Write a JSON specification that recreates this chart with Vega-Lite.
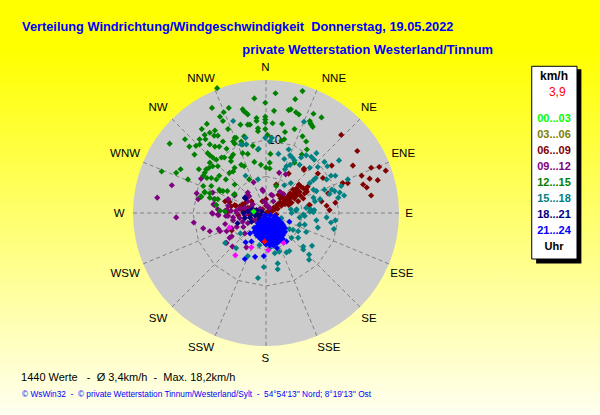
{
  "$schema": "https://vega.github.io/schema/vega-lite/v6.json",
  "width": 600,
  "height": 415,
  "padding": 0,
  "autosize": {"type": "fit", "contains": "padding"},
  "background": "#ffffff",
  "config": {
    "axis": {"disable": true},
    "view": {"stroke": null},
    "text": {"font": "Liberation Sans"}
  },
  "datasets": {
    "richtung": [
      {"r": "N", "e": 0, "n": 18.2}, {"r": "NNE", "e": 6.96, "n": 16.81}, {"r": "NE", "e": 12.87, "n": 12.87}, {"r": "ENE", "e": 16.81, "n": 6.96},
      {"r": "E", "e": 18.2, "n": 0}, {"r": "ESE", "e": 16.81, "n": -6.96}, {"r": "SE", "e": 12.87, "n": -12.87}, {"r": "SSE", "e": 6.96, "n": -16.81},
      {"r": "S", "e": 0, "n": -18.2}, {"r": "SSW", "e": -6.96, "n": -16.81}, {"r": "SW", "e": -12.87, "n": -12.87}, {"r": "WSW", "e": -16.81, "n": -6.96},
      {"r": "W", "e": -18.2, "n": 0}, {"r": "WNW", "e": -16.81, "n": 6.96}, {"r": "NW", "e": -12.87, "n": 12.87}, {"r": "NNW", "e": -6.96, "n": 16.81}
    ],
    "beschriftung": [
      {"r": "N", "e": -0.1, "n": 19.9}, {"r": "NNE", "e": 9.3, "n": 18.4}, {"r": "NE", "e": 14.1, "n": 14.4}, {"r": "ENE", "e": 18.8, "n": 8.1},
      {"r": "E", "e": 19.6, "n": -0.1}, {"r": "ESE", "e": 18.6, "n": -8.4}, {"r": "SE", "e": 14.1, "n": -14.5}, {"r": "SSE", "e": 8.6, "n": -18.5},
      {"r": "S", "e": -0.1, "n": -20}, {"r": "SSW", "e": -8.9, "n": -18.5}, {"r": "SW", "e": -14.8, "n": -14.5}, {"r": "WSW", "e": -19.3, "n": -8.4},
      {"r": "W", "e": -20.1, "n": -0.1}, {"r": "WNW", "e": -19.3, "n": 8.1}, {"r": "NW", "e": -14.8, "n": 14.4}, {"r": "NNW", "e": -8.9, "n": 18.4}
    ],
    "ringe": [
      {"k": 5, "i": 0, "e": 0, "n": 5}, {"k": 5, "i": 1, "e": 1.91, "n": 4.62}, {"k": 5, "i": 2, "e": 3.54, "n": 3.54}, {"k": 5, "i": 3, "e": 4.62, "n": 1.91},
      {"k": 5, "i": 4, "e": 5, "n": 0}, {"k": 5, "i": 5, "e": 4.62, "n": -1.91}, {"k": 5, "i": 6, "e": 3.54, "n": -3.54}, {"k": 5, "i": 7, "e": 1.91, "n": -4.62},
      {"k": 5, "i": 8, "e": 0, "n": -5}, {"k": 5, "i": 9, "e": -1.91, "n": -4.62}, {"k": 5, "i": 10, "e": -3.54, "n": -3.54}, {"k": 5, "i": 11, "e": -4.62, "n": -1.91},
      {"k": 5, "i": 12, "e": -5, "n": 0}, {"k": 5, "i": 13, "e": -4.62, "n": 1.91}, {"k": 5, "i": 14, "e": -3.54, "n": 3.54}, {"k": 5, "i": 15, "e": -1.91, "n": 4.62}, {"k": 5, "i": 16, "e": 0, "n": 5},
      {"k": 10, "i": 0, "e": 0, "n": 10}, {"k": 10, "i": 1, "e": 3.83, "n": 9.24}, {"k": 10, "i": 2, "e": 7.07, "n": 7.07}, {"k": 10, "i": 3, "e": 9.24, "n": 3.83},
      {"k": 10, "i": 4, "e": 10, "n": 0}, {"k": 10, "i": 5, "e": 9.24, "n": -3.83}, {"k": 10, "i": 6, "e": 7.07, "n": -7.07}, {"k": 10, "i": 7, "e": 3.83, "n": -9.24},
      {"k": 10, "i": 8, "e": 0, "n": -10}, {"k": 10, "i": 9, "e": -3.83, "n": -9.24}, {"k": 10, "i": 10, "e": -7.07, "n": -7.07}, {"k": 10, "i": 11, "e": -9.24, "n": -3.83},
      {"k": 10, "i": 12, "e": -10, "n": 0}, {"k": 10, "i": 13, "e": -9.24, "n": 3.83}, {"k": 10, "i": 14, "e": -7.07, "n": 7.07}, {"k": 10, "i": 15, "e": -3.83, "n": 9.24}, {"k": 10, "i": 16, "e": 0, "n": 10}
    ],
    "wind": [
      {"u":"06...09","e":10.3,"n":10.7},{"u":"06...09","e":12.5,"n":8.5},{"u":"06...09","e":9.0,"n":6.5},{"u":"06...09","e":11.9,"n":6.5},{"u":"06...09","e":14.4,"n":6.2},{"u":"06...09","e":15.5,"n":6.3},{"u":"06...09","e":16.4,"n":5.8},{"u":"06...09","e":13.1,"n":5.1},{"u":"06...09","e":14.2,"n":4.7},{"u":"06...09","e":15.3,"n":4.5},{"u":"06...09","e":13.3,"n":3.9},{"u":"06...09","e":13.8,"n":3.5},{"u":"06...09","e":14.4,"n":2.4},{"u":"06...09","e":5.2,"n":6.1},{"u":"06...09","e":3.1,"n":5.4},{"u":"06...09","e":7.1,"n":5.4},{"u":"06...09","e":7.8,"n":4.8},{"u":"06...09","e":10.5,"n":4.1},{"u":"06...09","e":11.2,"n":4.1},{"u":"06...09","e":8.5,"n":2.7},{"u":"06...09","e":8.3,"n":1.0},{"u":"06...09","e":9.5,"n":1.4},{"u":"06...09","e":8.7,"n":0.4},{"u":"06...09","e":5.9,"n":1.1},
      {"u":"06...09","e":0.1,"n":0},{"u":"06...09","e":0.5,"n":0.2},{"u":"06...09","e":1.0,"n":0.7},{"u":"06...09","e":1.4,"n":0.9},{"u":"06...09","e":1.9,"n":1.4},{"u":"06...09","e":2.3,"n":1.4},{"u":"06...09","e":2.8,"n":2.0},{"u":"06...09","e":3.0,"n":1.6},{"u":"06...09","e":3.5,"n":2.3},{"u":"06...09","e":3.9,"n":2.0},{"u":"06...09","e":3.9,"n":2.7},{"u":"06...09","e":4.2,"n":3.4},{"u":"06...09","e":4.5,"n":3.9},{"u":"06...09","e":4.6,"n":2.9},{"u":"06...09","e":5.1,"n":3.4},{"u":"06...09","e":5.3,"n":2.7},{"u":"06...09","e":5.1,"n":2.0},{"u":"06...09","e":4.4,"n":1.6},{"u":"06...09","e":3.5,"n":1.4},{"u":"06...09","e":2.3,"n":2.3},{"u":"06...09","e":1.7,"n":2.5},{"u":"06...09","e":2.1,"n":2.7},{"u":"06...09","e":1.4,"n":3.9},{"u":"06...09","e":1.2,"n":0.5},{"u":"06...09","e":1.4,"n":-0.2},{"u":"06...09","e":5.7,"n":3.6},{"u":"06...09","e":5.2,"n":5.9},{"u":"06...09","e":6.0,"n":1.1},{"u":"06...09","e":7.6,"n":1.6},
      {"u":"06...09","e":0.8,"n":0.2},{"u":"06...09","e":1.6,"n":0.6},{"u":"06...09","e":2.1,"n":1.0},{"u":"06...09","e":2.6,"n":1.2},{"u":"06...09","e":2.6,"n":1.7},{"u":"06...09","e":3.2,"n":1.9},{"u":"06...09","e":3.3,"n":2.7},{"u":"06...09","e":3.7,"n":3.2},{"u":"06...09","e":4.2,"n":2.4},{"u":"06...09","e":4.7,"n":2.4},{"u":"06...09","e":4.8,"n":3.6},{"u":"06...09","e":4.3,"n":3.0},{"u":"06...09","e":3.7,"n":2.4},{"u":"06...09","e":3.0,"n":2.3},{"u":"06...09","e":2.5,"n":1.9},{"u":"06...09","e":1.6,"n":1.2},{"u":"06...09","e":0.9,"n":0.5},{"u":"06...09","e":5.6,"n":2.9},{"u":"06...09","e":5.5,"n":3.2},{"u":"06...09","e":2.0,"n":2.0},{"u":"06...09","e":3.1,"n":1.1},
      {"u":"06...09","e":-4.8,"n":0.9},{"u":"06...09","e":-5.2,"n":0.2},{"u":"06...09","e":-3.6,"n":0.9},{"u":"06...09","e":-4.7,"n":-2.4},{"u":"06...09","e":-5.6,"n":1.6},{"u":"06...09","e":-7.0,"n":1.1},{"u":"06...09","e":-4.3,"n":1.1},{"u":"06...09","e":-3.8,"n":-0.3},{"u":"06...09","e":-3.1,"n":0.9},{"u":"06...09","e":-2.2,"n":-0.3},{"u":"06...09","e":-1.3,"n":0},{"u":"06...09","e":0,"n":0},{"u":"06...09","e":0.5,"n":0.4},{"u":"06...09","e":-2.9,"n":1.3},{"u":"06...09","e":-2.0,"n":1.6},{"u":"06...09","e":-2.7,"n":0.4},{"u":"06...09","e":-5.0,"n":1.5},{"u":"06...09","e":-5.2,"n":0.3},{"u":"06...09","e":-3.2,"n":1.2},{"u":"06...09","e":-2.5,"n":0.7},{"u":"06...09","e":-1.8,"n":0.5},{"u":"06...09","e":-0.5,"n":1.6},{"u":"06...09","e":0,"n":1.9},{"u":"06...09","e":-4.1,"n":1.0},{"u":"06...09","e":-3.2,"n":0.3},{"u":"06...09","e":-1.4,"n":-0.4},{"u":"06...09","e":-0.5,"n":0.5},{"u":"06...09","e":0,"n":1.0},
      {"u":"09...12","e":-8.9,"n":4.7},{"u":"09...12","e":-12.9,"n":3.8},{"u":"09...12","e":-14.9,"n":2.1},{"u":"09...12","e":-9.5,"n":2.7},{"u":"09...12","e":-9.3,"n":1.9},{"u":"09...12","e":-7.3,"n":2.8},{"u":"09...12","e":-7.1,"n":1.9},{"u":"09...12","e":-7.1,"n":1.1},{"u":"09...12","e":-12.3,"n":-0.6},{"u":"09...12","e":-7.4,"n":0},{"u":"09...12","e":-6.6,"n":0.5},{"u":"09...12","e":-6.6,"n":-0.2},{"u":"09...12","e":-5.6,"n":0.3},{"u":"09...12","e":-5.2,"n":1.9},{"u":"09...12","e":-4.3,"n":2.4},{"u":"09...12","e":-5.2,"n":1.0},{"u":"09...12","e":-4.8,"n":0.3},{"u":"09...12","e":-4.1,"n":0.3},{"u":"09...12","e":-2.5,"n":2.8},{"u":"09...12","e":-2.3,"n":2.3},{"u":"09...12","e":-1.7,"n":4.2},{"u":"09...12","e":-0.5,"n":3.2},{"u":"09...12","e":-2.5,"n":1.6},{"u":"09...12","e":-3.0,"n":0.7},{"u":"09...12","e":-1.8,"n":1.2},{"u":"09...12","e":-4.5,"n":-0.6},{"u":"09...12","e":-5.5,"n":-0.4},
      {"u":"09...12","e":1.8,"n":5.5},{"u":"09...12","e":2.7,"n":5.3},{"u":"09...12","e":0.9,"n":2.4},{"u":"09...12","e":1.0,"n":1.6},{"u":"09...12","e":1.9,"n":2.9},{"u":"09...12","e":2.4,"n":2.6},{"u":"09...12","e":-0.1,"n":1.4},{"u":"09...12","e":0.1,"n":1.0},{"u":"09...12","e":0.5,"n":0.7},
      {"u":"09...12","e":-9.9,"n":-1.3},{"u":"09...12","e":-8.6,"n":-2.1},{"u":"09...12","e":-7.7,"n":-2.5},{"u":"09...12","e":-6.5,"n":-2.2},{"u":"09...12","e":-6.3,"n":-2.5},{"u":"09...12","e":-5.6,"n":-1.5},{"u":"09...12","e":-5.4,"n":-2.5},{"u":"09...12","e":-4.7,"n":-2.1},{"u":"09...12","e":-7.3,"n":-0.1},{"u":"09...12","e":-6.5,"n":-0.3},{"u":"09...12","e":-7.2,"n":1.2},{"u":"09...12","e":-5.4,"n":0.4},{"u":"09...12","e":-5.2,"n":-0.4},{"u":"09...12","e":-5.0,"n":-3.4},{"u":"09...12","e":-4.7,"n":-3.2},{"u":"09...12","e":-4.6,"n":-4.6},{"u":"09...12","e":-5.4,"n":-4.1},{"u":"09...12","e":-2.7,"n":-4.7},{"u":"09...12","e":-4.0,"n":0},{"u":"09...12","e":-3.6,"n":0.6},{"u":"09...12","e":-2.7,"n":0.6},{"u":"09...12","e":-2.0,"n":0.9},{"u":"09...12","e":-1.8,"n":-1.0},{"u":"09...12","e":-2.5,"n":-1.4},{"u":"09...12","e":-3.6,"n":-0.7},{"u":"09...12","e":-4.5,"n":-1.0},{"u":"09...12","e":-4.0,"n":-1.9},{"u":"09...12","e":-3.1,"n":-1.9},{"u":"09...12","e":-2.9,"n":-2.8},{"u":"09...12","e":-0.2,"n":1.6},{"u":"09...12","e":0.3,"n":0.9},{"u":"09...12","e":-0.4,"n":3.0},{"u":"09...12","e":0.7,"n":2.5},{"u":"09...12","e":-2.5,"n":2.5},{"u":"09...12","e":-2.0,"n":-0.2},{"u":"09...12","e":-1.2,"n":0.3},{"u":"09...12","e":-1.5,"n":-1.0},{"u":"09...12","e":-0.8,"n":0.6},{"u":"09...12","e":-2.9,"n":-0.3},{"u":"09...12","e":-3.2,"n":-1.2},{"u":"09...12","e":-2.4,"n":0.2},{"u":"09...12","e":-1.0,"n":-0.6},
      {"u":"12...15","e":-6.7,"n":17.1},{"u":"12...15","e":-1.6,"n":15.7},{"u":"12...15","e":-0.1,"n":15.1},{"u":"12...15","e":-7.4,"n":14.4},{"u":"12...15","e":-5.1,"n":14.4},{"u":"12...15","e":-5.8,"n":13.8},{"u":"12...15","e":-6.3,"n":13.2},{"u":"12...15","e":-5.9,"n":12.6},{"u":"12...15","e":-3.2,"n":14.2},{"u":"12...15","e":-3.0,"n":13.9},{"u":"12...15","e":-2.7,"n":13.7},{"u":"12...15","e":-2.5,"n":13.5},{"u":"12...15","e":-3.5,"n":12.1},{"u":"12...15","e":-2.5,"n":12.1},{"u":"12...15","e":-2.2,"n":12.1},{"u":"12...15","e":-1.3,"n":13.0},{"u":"12...15","e":-1.3,"n":12.6},{"u":"12...15","e":-0.1,"n":13.2},{"u":"12...15","e":-0.1,"n":12.8},{"u":"12...15","e":-0.1,"n":12.4},{"u":"12...15","e":-8.1,"n":12.2},{"u":"12...15","e":-5.2,"n":11.5},{"u":"12...15","e":-1.1,"n":11.6},{"u":"12...15","e":-1.1,"n":11.2},{"u":"12...15","e":-0.1,"n":11.5},{"u":"12...15","e":-8.8,"n":11.5},{"u":"12...15","e":-7.0,"n":11.3},{"u":"12...15","e":-8.4,"n":10.7},{"u":"12...15","e":-7.7,"n":11.0},{"u":"12...15","e":-7.1,"n":10.6},{"u":"12...15","e":-6.6,"n":10.6},{"u":"12...15","e":-11.1,"n":10.1},{"u":"12...15","e":-9.1,"n":10.1},{"u":"12...15","e":-8.3,"n":10.1},{"u":"12...15","e":-5.9,"n":9.8},{"u":"12...15","e":-4.3,"n":10.3},{"u":"12...15","e":-4.1,"n":10.3},{"u":"12...15","e":-4.5,"n":9.8},{"u":"12...15","e":-4.3,"n":9.5},{"u":"12...15","e":-3.0,"n":10.5},{"u":"12...15","e":-3.4,"n":9.8},{"u":"12...15","e":-10.5,"n":9.1},{"u":"12...15","e":-9.1,"n":9.4},{"u":"12...15","e":-9.6,"n":9.2},{"u":"12...15","e":-13.2,"n":9.5},{"u":"12...15","e":-7.7,"n":9.4},{"u":"12...15","e":-7.0,"n":9.1},{"u":"12...15","e":-6.4,"n":9.1},{"u":"12...15","e":-3.2,"n":9.4},{"u":"12...15","e":-1.8,"n":9.2},{"u":"12...15","e":-1.1,"n":8.7},{"u":"12...15","e":-9.8,"n":8.0},{"u":"12...15","e":-8.0,"n":8.2},{"u":"12...15","e":-7.7,"n":7.9},{"u":"12...15","e":-5.4,"n":8.8},{"u":"12...15","e":-4.5,"n":8.0},{"u":"12...15","e":-4.8,"n":7.6},{"u":"12...15","e":-3.2,"n":8.2},{"u":"12...15","e":-2.5,"n":8.1},{"u":"12...15","e":-1.6,"n":7.0},{"u":"12...15","e":-0.7,"n":6.6},{"u":"12...15","e":-7.3,"n":7.6},{"u":"12...15","e":-6.8,"n":7.3},{"u":"12...15","e":-6.1,"n":7.6},{"u":"12...15","e":-5.7,"n":7.6},{"u":"12...15","e":-7.7,"n":6.9},{"u":"12...15","e":-7.3,"n":6.4},{"u":"12...15","e":-6.6,"n":6.4},{"u":"12...15","e":-4.8,"n":7.1},{"u":"12...15","e":-3.4,"n":6.6},{"u":"12...15","e":-3.0,"n":6.4},{"u":"12...15","e":-4.3,"n":6.2},{"u":"12...15","e":-4.5,"n":5.7},{"u":"12...15","e":-9.2,"n":6.0},{"u":"12...15","e":-8.2,"n":6.0},{"u":"12...15","e":-8.4,"n":5.5},{"u":"12...15","e":-8.6,"n":5.1},{"u":"12...15","e":-8.1,"n":4.8},{"u":"12...15","e":-7.8,"n":6.2},{"u":"12...15","e":-12.3,"n":5.5},{"u":"12...15","e":-11.7,"n":6.0},{"u":"12...15","e":-14.3,"n":5.7},{"u":"12...15","e":-10.7,"n":4.6},{"u":"12...15","e":-7.5,"n":4.8},{"u":"12...15","e":-6.8,"n":4.6},{"u":"12...15","e":-6.4,"n":5.1},{"u":"12...15","e":-5.0,"n":5.5},{"u":"12...15","e":-5.5,"n":4.6},{"u":"12...15","e":-4.3,"n":3.9},{"u":"12...15","e":-2.3,"n":4.6},{"u":"12...15","e":0,"n":6.2},{"u":"12...15","e":-8.6,"n":3.7},{"u":"12...15","e":-7.5,"n":3.7},{"u":"12...15","e":-6.4,"n":3.2},{"u":"12...15","e":-5.9,"n":3.0},{"u":"12...15","e":-8.4,"n":2.9},{"u":"12...15","e":-7.7,"n":2.1},{"u":"12...15","e":-6.6,"n":1.9},{"u":"12...15","e":-4.3,"n":2.6},{"u":"12...15","e":-8.9,"n":2.3},
      {"u":"12...15","e":1.3,"n":16.4},{"u":"12...15","e":5.0,"n":16.7},{"u":"12...15","e":4.0,"n":15.6},{"u":"12...15","e":1.1,"n":14.0},{"u":"12...15","e":3.1,"n":14.1},{"u":"12...15","e":3.4,"n":14.2},{"u":"12...15","e":4.1,"n":13.8},{"u":"12...15","e":4.5,"n":13.5},{"u":"12...15","e":6.5,"n":13.6},{"u":"12...15","e":7.6,"n":13.1},{"u":"12...15","e":6.0,"n":12.6},{"u":"12...15","e":6.1,"n":12.3},{"u":"12...15","e":6.2,"n":12.1},{"u":"12...15","e":6.4,"n":11.8},{"u":"12...15","e":2.2,"n":12.2},{"u":"12...15","e":0.9,"n":12.3},{"u":"12...15","e":2.6,"n":11.1},{"u":"12...15","e":3.9,"n":11.5},{"u":"12...15","e":5.0,"n":10.5},{"u":"12...15","e":5.5,"n":9.8},{"u":"12...15","e":2.1,"n":9.9},{"u":"12...15","e":2.5,"n":10.1},{"u":"12...15","e":5.6,"n":8.7},{"u":"12...15","e":0.6,"n":8.1},{"u":"12...15","e":0.5,"n":6.9},{"u":"12...15","e":0.5,"n":6.1},{"u":"12...15","e":3.9,"n":6.9},{"u":"12...15","e":4.9,"n":8.0},{"u":"12...15","e":1.4,"n":3.7},{"u":"12...15","e":0.2,"n":10.7},
      {"u":"12...15","e":-8.4,"n":2.8},{"u":"12...15","e":-7.7,"n":2.7},{"u":"12...15","e":-8.9,"n":2.2},{"u":"12...15","e":-6.3,"n":3.0},{"u":"12...15","e":-5.3,"n":3.0},{"u":"12...15","e":-4.4,"n":2.5},{"u":"12...15","e":-7.0,"n":1.9},{"u":"12...15","e":-6.3,"n":0.3},{"u":"12...15","e":-5.6,"n":0.2},{"u":"12...15","e":-6.8,"n":1.1},
      {"u":"15...18","e":-4.5,"n":12.6},{"u":"15...18","e":-2.8,"n":10.3},{"u":"15...18","e":-3.4,"n":9.4},{"u":"15...18","e":-2.7,"n":9.4},{"u":"15...18","e":-0.1,"n":10.3},{"u":"15...18","e":-1.0,"n":8.8},{"u":"15...18","e":-2.8,"n":5.1},{"u":"15...18","e":-1.1,"n":4.6},
      {"u":"15...18","e":5.2,"n":12.5},{"u":"15...18","e":0.8,"n":10.3},{"u":"15...18","e":0.5,"n":9.8},{"u":"15...18","e":3.1,"n":8.7},{"u":"15...18","e":1.7,"n":8.1},{"u":"15...18","e":2.5,"n":7.4},{"u":"15...18","e":3.3,"n":7.9},{"u":"15...18","e":3.6,"n":7.6},{"u":"15...18","e":3.9,"n":7.2},{"u":"15...18","e":4.8,"n":7.6},{"u":"15...18","e":5.5,"n":7.9},{"u":"15...18","e":6.2,"n":7.7},{"u":"15...18","e":6.9,"n":8.2},{"u":"15...18","e":6.6,"n":7.3},{"u":"15...18","e":8.0,"n":7.0},{"u":"15...18","e":10.0,"n":7.2},{"u":"15...18","e":2.8,"n":6.4},{"u":"15...18","e":3.3,"n":6.6},{"u":"15...18","e":4.6,"n":6.6},{"u":"15...18","e":6.0,"n":6.2},{"u":"15...18","e":7.1,"n":6.3},{"u":"15...18","e":8.4,"n":6.4},{"u":"15...18","e":2.6,"n":6.0},{"u":"15...18","e":8.9,"n":5.1},{"u":"15...18","e":9.5,"n":5.1},{"u":"15...18","e":6.8,"n":4.8},{"u":"15...18","e":6.5,"n":4.5},{"u":"15...18","e":6.0,"n":4.1},{"u":"15...18","e":3.4,"n":4.1},{"u":"15...18","e":2.5,"n":3.8},{"u":"15...18","e":8.3,"n":4.6},{"u":"15...18","e":11.2,"n":4.6},{"u":"15...18","e":10.3,"n":3.7},{"u":"15...18","e":6.5,"n":3.2},{"u":"15...18","e":6.9,"n":3.0},{"u":"15...18","e":8.0,"n":3.2},{"u":"15...18","e":9.0,"n":3.2},{"u":"15...18","e":9.4,"n":3.0},{"u":"15...18","e":10.1,"n":2.8},{"u":"15...18","e":9.9,"n":2.1},{"u":"15...18","e":10.7,"n":2.4},{"u":"15...18","e":6.5,"n":2.1},{"u":"15...18","e":6.7,"n":1.6},{"u":"15...18","e":7.4,"n":1.9},{"u":"15...18","e":8.7,"n":2.6},{"u":"15...18","e":6.1,"n":0.5},{"u":"15...18","e":6.5,"n":0.1},{"u":"15...18","e":5.1,"n":-0.2},{"u":"15...18","e":4.6,"n":-0.6},{"u":"15...18","e":4.2,"n":0.5},{"u":"15...18","e":3.4,"n":0.5},{"u":"15...18","e":5.5,"n":0.7},
      {"u":"15...18","e":-1.1,"n":-8.9},{"u":"15...18","e":-0.3,"n":-7.4},{"u":"15...18","e":1.6,"n":-6.9},{"u":"15...18","e":1.6,"n":-7.7},{"u":"15...18","e":-2.5,"n":-5.9},{"u":"15...18","e":-5.6,"n":-4.1},{"u":"15...18","e":-4.1,"n":-4.8},{"u":"15...18","e":5.9,"n":-5.7},{"u":"15...18","e":5.9,"n":-6.4},{"u":"15...18","e":5.1,"n":-4.6},{"u":"15...18","e":6.3,"n":-4.5},{"u":"15...18","e":5.1,"n":-5.0},{"u":"15...18","e":2.8,"n":-5.4},{"u":"15...18","e":3.2,"n":-5.2},{"u":"15...18","e":1.2,"n":-5.5},{"u":"15...18","e":1.8,"n":-5.3},{"u":"15...18","e":-0.9,"n":-4.4},{"u":"15...18","e":3.5,"n":-3.4},{"u":"15...18","e":4.4,"n":-3.4},{"u":"15...18","e":3.7,"n":-2.3},{"u":"15...18","e":4.4,"n":-2.5},{"u":"15...18","e":5.5,"n":-2.6},{"u":"15...18","e":7.1,"n":-2.0},{"u":"15...18","e":6.9,"n":-1.0},{"u":"15...18","e":8.3,"n":-0.6},{"u":"15...18","e":8.9,"n":-1.3},{"u":"15...18","e":9.5,"n":-1.0},{"u":"15...18","e":9.3,"n":-2.2},{"u":"15...18","e":3.5,"n":0},{"u":"15...18","e":4.1,"n":0.3},{"u":"15...18","e":5.3,"n":-0.4},{"u":"15...18","e":6.0,"n":0.2},{"u":"15...18","e":6.6,"n":0.4},{"u":"15...18","e":4.6,"n":-1.6},{"u":"15...18","e":5.3,"n":-1.6},{"u":"15...18","e":2.1,"n":-0.7},{"u":"15...18","e":3.2,"n":-2.2},{"u":"15...18","e":1.9,"n":-2.7},{"u":"15...18","e":-3.5,"n":-2.8},{"u":"15...18","e":0.5,"n":-4.8},
      {"u":"18...21","e":-2.8,"n":2.0},{"u":"18...21","e":-3.9,"n":-1.4},{"u":"18...21","e":-2.9,"n":2.1},{"u":"18...21","e":-1.8,"n":0},{"u":"18...21","e":-2.5,"n":0.2},{"u":"18...21","e":-1.1,"n":-0.3},{"u":"18...21","e":-2.9,"n":-0.7},{"u":"18...21","e":-0.9,"n":-0.9},{"u":"18...21","e":-2.0,"n":-1.2},{"u":"18...21","e":-0.2,"n":-0.7},{"u":"18...21","e":-1.3,"n":0.4},{"u":"18...21","e":-0.6,"n":0.2},{"u":"18...21","e":-3.1,"n":0},{"u":"18...21","e":-2.2,"n":-0.6},{"u":"18...21","e":-1.5,"n":-0.3},{"u":"18...21","e":-1.9,"n":0.5},{"u":"18...21","e":-0.7,"n":-0.2},
      {"u":"21...24","e":-0.4,"n":-0.8},{"u":"21...24","e":0.3,"n":-0.8},{"u":"21...24","e":1.0,"n":-0.8},{"u":"21...24","e":1.6,"n":-0.8},{"u":"21...24","e":-0.9,"n":-1.3},{"u":"21...24","e":-0.3,"n":-1.3},{"u":"21...24","e":0.3,"n":-1.3},{"u":"21...24","e":0.9,"n":-1.3},{"u":"21...24","e":1.5,"n":-1.3},{"u":"21...24","e":2.1,"n":-1.3},{"u":"21...24","e":-1.2,"n":-1.8},{"u":"21...24","e":-0.6,"n":-1.8},{"u":"21...24","e":0,"n":-1.8},{"u":"21...24","e":0.6,"n":-1.8},{"u":"21...24","e":1.2,"n":-1.8},{"u":"21...24","e":1.8,"n":-1.8},{"u":"21...24","e":2.4,"n":-1.8},{"u":"21...24","e":-1.3,"n":-2.3},{"u":"21...24","e":-0.7,"n":-2.3},{"u":"21...24","e":-0.1,"n":-2.3},{"u":"21...24","e":0.5,"n":-2.3},{"u":"21...24","e":1.1,"n":-2.3},{"u":"21...24","e":1.7,"n":-2.3},{"u":"21...24","e":2.3,"n":-2.3},{"u":"21...24","e":-1.2,"n":-2.8},{"u":"21...24","e":-0.6,"n":-2.8},{"u":"21...24","e":0,"n":-2.8},{"u":"21...24","e":0.6,"n":-2.8},{"u":"21...24","e":1.2,"n":-2.8},{"u":"21...24","e":1.8,"n":-2.8},{"u":"21...24","e":2.4,"n":-2.8},{"u":"21...24","e":-1.0,"n":-3.3},{"u":"21...24","e":-0.4,"n":-3.3},{"u":"21...24","e":0.2,"n":-3.3},{"u":"21...24","e":0.8,"n":-3.3},{"u":"21...24","e":1.4,"n":-3.3},{"u":"21...24","e":2.0,"n":-3.3},{"u":"21...24","e":-0.5,"n":-3.8},{"u":"21...24","e":0.1,"n":-3.8},{"u":"21...24","e":0.7,"n":-3.8},{"u":"21...24","e":1.3,"n":-3.8},{"u":"21...24","e":1.9,"n":-3.8},{"u":"21...24","e":0,"n":-4.3},{"u":"21...24","e":0.6,"n":-4.3},{"u":"21...24","e":1.2,"n":-4.3},
      {"u":"21...24","e":-0.1,"n":-0.3},{"u":"21...24","e":0.6,"n":-0.3},{"u":"21...24","e":1.2,"n":-0.4},{"u":"21...24","e":-0.6,"n":-1.05},{"u":"21...24","e":0,"n":-1.05},{"u":"21...24","e":0.6,"n":-1.05},{"u":"21...24","e":1.2,"n":-1.05},{"u":"21...24","e":1.8,"n":-1.05},{"u":"21...24","e":-1.0,"n":-1.55},{"u":"21...24","e":-0.4,"n":-1.55},{"u":"21...24","e":0.2,"n":-1.55},{"u":"21...24","e":0.8,"n":-1.55},{"u":"21...24","e":1.4,"n":-1.55},{"u":"21...24","e":2.0,"n":-1.55},{"u":"21...24","e":-1.6,"n":-2.05},{"u":"21...24","e":-1.0,"n":-2.05},{"u":"21...24","e":-0.4,"n":-2.05},{"u":"21...24","e":0.2,"n":-2.05},{"u":"21...24","e":0.8,"n":-2.05},{"u":"21...24","e":1.4,"n":-2.05},{"u":"21...24","e":2.0,"n":-2.05},{"u":"21...24","e":2.6,"n":-2.05},{"u":"21...24","e":-1.6,"n":-2.55},{"u":"21...24","e":-1.0,"n":-2.55},{"u":"21...24","e":-0.4,"n":-2.55},{"u":"21...24","e":0.2,"n":-2.55},{"u":"21...24","e":0.8,"n":-2.55},{"u":"21...24","e":1.4,"n":-2.55},{"u":"21...24","e":2.0,"n":-2.55},{"u":"21...24","e":2.6,"n":-2.55},{"u":"21...24","e":-1.3,"n":-3.05},{"u":"21...24","e":-0.7,"n":-3.05},{"u":"21...24","e":-0.1,"n":-3.05},{"u":"21...24","e":0.5,"n":-3.05},{"u":"21...24","e":1.1,"n":-3.05},{"u":"21...24","e":1.7,"n":-3.05},{"u":"21...24","e":2.3,"n":-3.05},{"u":"21...24","e":-0.7,"n":-3.55},{"u":"21...24","e":-0.1,"n":-3.55},{"u":"21...24","e":0.5,"n":-3.55},{"u":"21...24","e":1.1,"n":-3.55},{"u":"21...24","e":1.7,"n":-3.55},{"u":"21...24","e":2.3,"n":-3.55},{"u":"21...24","e":-0.2,"n":-4.05},{"u":"21...24","e":0.4,"n":-4.05},{"u":"21...24","e":1.0,"n":-4.05},{"u":"21...24","e":1.6,"n":-4.05},
      {"u":"21...24","e":-2.9,"n":-6.3},{"u":"21...24","e":-1.5,"n":-6.0},{"u":"21...24","e":-0.3,"n":-5.9},{"u":"21...24","e":-2.0,"n":-3.9},{"u":"21...24","e":-2.8,"n":-4.0},{"u":"21...24","e":1.0,"n":-4.4},{"u":"21...24","e":1.5,"n":-4.8},{"u":"21...24","e":2.8,"n":-3.9},{"u":"21...24","e":2.3,"n":-1.6},{"u":"21...24","e":1.9,"n":-2.1},{"u":"21...24","e":3.2,"n":-1.2},{"u":"21...24","e":1.4,"n":-3.7},{"u":"21...24","e":0.5,"n":-4.4},{"u":"21...24","e":-2.2,"n":-2.8},{"u":"21...24","e":-1.5,"n":-2.1},{"u":"21...24","e":-1.1,"n":-1.4},{"u":"21...24","e":2.1,"n":-3.0},
      {"u":"m","e":-5.0,"n":-2.0},{"u":"m","e":-4.2,"n":-5.8},{"u":"m","e":2.4,"n":-4.1},{"u":"m","e":0.3,"n":-5.1},{"u":"m","e":-2.0,"n":-4.7},
      {"u":"00...03","e":-1.7,"n":0.2},{"u":"r","e":-0.2,"n":-3.9}
    ]
  },
  "layer": [
    {
      "data": {"values": [{}]},
      "mark": {"type": "rect", "fill": {"gradient": "linear", "x1": 0, "y1": 0, "x2": 0, "y2": 1, "stops": [{"offset": 0, "color": "#ffff00"}, {"offset": 0.12, "color": "#ffff00"}, {"offset": 1, "color": "#fffff0"}]}},
      "encoding": {
        "x": {"datum": -36.44, "scale": {"domain": [-36.44, 45.75], "nice": false, "zero": false}},
        "x2": {"datum": 45.75},
        "y": {"datum": 29.18, "scale": {"domain": [-27.67, 29.18], "nice": false, "zero": false}},
        "y2": {"datum": -27.67}
      }
    },
    {
      "data": {"values": [{}]},
      "mark": {"type": "circle", "size": 70756, "color": "#cccccc", "opacity": 1},
      "encoding": {"x": {"datum": 0}, "y": {"datum": 0}}
    },
    {
      "data": {"name": "ringe"},
      "mark": {"type": "line", "color": "#808080", "strokeWidth": 1, "strokeDash": [4, 3]},
      "encoding": {"x": {"field": "e", "type": "quantitative"}, "y": {"field": "n", "type": "quantitative"}, "detail": {"field": "k"}, "order": {"field": "i"}}
    },
    {
      "data": {"name": "richtung"},
      "mark": {"type": "rule", "color": "#808080", "strokeWidth": 1, "strokeDash": [4, 3]},
      "encoding": {"x": {"field": "e", "type": "quantitative"}, "y": {"field": "n", "type": "quantitative"}, "x2": {"datum": 0}, "y2": {"datum": 0}}
    },
    {
      "data": {"values": [{}]},
      "mark": {"type": "text", "text": "10", "fontSize": 12, "color": "#000000"},
      "encoding": {"x": {"datum": 1.2}, "y": {"datum": 10}}
    },
    {
      "data": {"name": "beschriftung"},
      "mark": {"type": "text", "fontSize": 11.5, "color": "#000000"},
      "encoding": {"x": {"field": "e", "type": "quantitative"}, "y": {"field": "n", "type": "quantitative"}, "text": {"field": "r"}}
    },
    {
      "data": {"name": "wind"},
      "mark": {"type": "point", "shape": "diamond", "filled": true, "size": 38, "opacity": 1},
      "encoding": {
        "x": {"field": "e", "type": "quantitative"},
        "y": {"field": "n", "type": "quantitative"},
        "color": {
          "field": "u",
          "type": "nominal",
          "scale": {
            "domain": ["00...03", "03...06", "06...09", "09...12", "12...15", "15...18", "18...21", "21...24", "m", "r"],
            "range": ["#00ff00", "#808000", "#800000", "#800080", "#008000", "#008080", "#000080", "#0000ff", "#ff00ff", "#ff0000"]
          },
          "legend": null
        }
      }
    },
    {
      "data": {"values": [{}]},
      "mark": {"type": "rect", "color": "#000000"},
      "encoding": {"x": {"datum": 37.0}, "x2": {"datum": 43.2}, "y": {"datum": 19.7}, "y2": {"datum": -6.9}}
    },
    {
      "data": {"values": [{}]},
      "mark": {"type": "rect", "fill": "#ffffff", "stroke": "#000000", "strokeWidth": 1},
      "encoding": {"x": {"datum": 36.4}, "x2": {"datum": 42.6}, "y": {"datum": 20.1}, "y2": {"datum": -6.3}}
    },
    {"data": {"values": [{}]}, "mark": {"type": "text", "text": "km/h", "fontSize": 12, "fontWeight": "bold", "color": "#000000"}, "encoding": {"x": {"datum": 39.45}, "y": {"datum": 18.77}}},
    {"data": {"values": [{}]}, "mark": {"type": "text", "text": "3,9", "fontSize": 12, "color": "#ff0000"}, "encoding": {"x": {"datum": 39.9}, "y": {"datum": 16.58}}},
    {
      "data": {"values": [
        {"u": "00...03", "f": 12.88}, {"u": "03...06", "f": 10.68}, {"u": "06...09", "f": 8.49}, {"u": "09...12", "f": 6.3},
        {"u": "12...15", "f": 4.11}, {"u": "15...18", "f": 1.92}, {"u": "18...21", "f": -0.27}, {"u": "21...24", "f": -2.47}
      ]},
      "mark": {"type": "text", "fontSize": 11, "fontWeight": "bold"},
      "encoding": {
        "x": {"datum": 39.45},
        "y": {"field": "f", "type": "quantitative"},
        "text": {"field": "u"},
        "color": {"field": "u", "type": "nominal", "legend": null}
      }
    },
    {"data": {"values": [{}]}, "mark": {"type": "text", "text": "Uhr", "fontSize": 11, "fontWeight": "bold", "color": "#000000"}, "encoding": {"x": {"datum": 39.45}, "y": {"datum": -4.66}}},
    {"data": {"values": [{}]}, "mark": {"type": "text", "text": "Verteilung Windrichtung/Windgeschwindigkeit\u00a0\u00a0Donnerstag, 19.05.2022", "align": "left", "baseline": "alphabetic", "fontSize": 12.8, "fontWeight": "bold", "color": "#0000ff"}, "encoding": {"x": {"datum": -33.42}, "y": {"datum": 24.93}}},
    {"data": {"values": [{}]}, "mark": {"type": "text", "text": "private Wetterstation Westerland/Tinnum", "align": "left", "baseline": "alphabetic", "fontSize": 12.9, "fontWeight": "bold", "color": "#0000ff"}, "encoding": {"x": {"datum": -3.25}, "y": {"datum": 21.74}}},
    {"data": {"values": [{}]}, "mark": {"type": "text", "text": "1440 Werte\u00a0\u00a0\u00a0-\u00a0\u00a0\u00d8 3,4km/h\u00a0\u00a0-\u00a0\u00a0Max. 18,2km/h", "align": "left", "baseline": "alphabetic", "fontSize": 11, "color": "#000000"}, "encoding": {"x": {"datum": -33.56}, "y": {"datum": -23.0}}},
    {"data": {"values": [{}]}, "mark": {"type": "text", "text": "\u00a9 WsWin32\u00a0\u00a0-\u00a0\u00a0\u00a9 private Wetterstation Tinnum/Westerland/Sylt\u00a0\u00a0-\u00a0\u00a054\u00b054'13'' Nord; 8\u00b019'13'' Ost", "align": "left", "baseline": "alphabetic", "fontSize": 8.3, "color": "#0000ff"}, "encoding": {"x": {"datum": -33.42}, "y": {"datum": -25.16}}}
  ]
}
